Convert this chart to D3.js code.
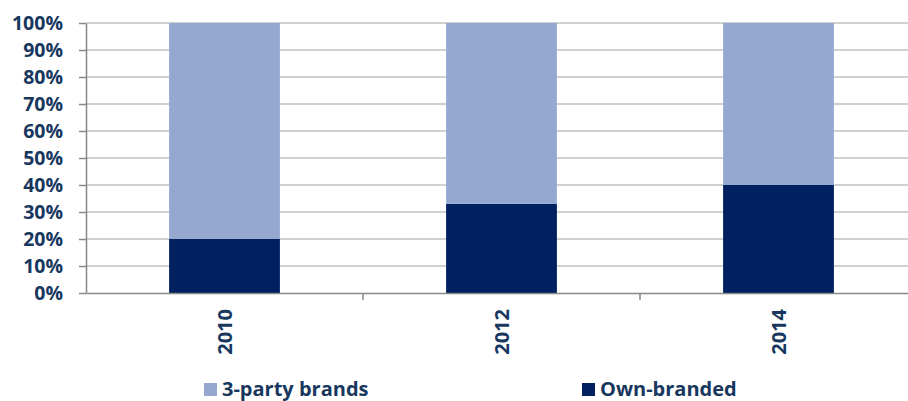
<!DOCTYPE html>
<html>
<head>
<meta charset="UTF-8">
<script src="https://d3js.org/d3.v7.min.js"></script>
<style>
  body { margin: 0; background: #fff; }
  text { font-family: "Open Sans", sans-serif; font-weight: 700; fill: #17375E; }
</style>
</head>
<body>
<div id="chart"></div>
<script>
// data
var years = ["2010", "2012", "2014"];
var ownBranded = [20, 33, 40];
var thirdParty = [80, 67, 60];
var seriesNames = ["3-party brands", "Own-branded"];
var yTicks = [0, 10, 20, 30, 40, 50, 60, 70, 80, 90, 100];

var W = 908, H = 401;
var margin = {top: 23, left: 86, bottom: 108};
var plotH = H - margin.top - margin.bottom;
var plotW = 831; // runs past the right edge, like the original

var svg = d3.select("#chart").append("svg")
    .attr("width", W).attr("height", H);
var g = svg.append("g").attr("transform", "translate(" + margin.left + "," + margin.top + ")");

var x = d3.scaleBand().domain(years).range([0, plotW]).paddingInner(0.6).paddingOuter(0.3);
var xCat = d3.scaleBand().domain(years).range([0, plotW]);
var y = d3.scaleLinear().domain([0, 100]).range([plotH, 0]);

var color = d3.scaleOrdinal().domain(seriesNames).range(["#95A9D0", "#002060"]);

// gridlines
g.selectAll(".grid").data(yTicks.slice(1)).enter().append("line")
    .attr("x1", 0).attr("x2", plotW)
    .attr("y1", d => y(d)).attr("y2", d => y(d))
    .attr("stroke", "#C0C0C0").attr("stroke-width", 1.5);

// stacked bars
var rows = years.map((yr, i) => ({year: yr, "Own-branded": ownBranded[i], "3-party brands": thirdParty[i]}));
var stack = d3.stack().keys(["Own-branded", "3-party brands"])(rows);

g.selectAll(".layer").data(stack).enter().append("g")
    .attr("fill", d => color(d.key))
  .selectAll("rect").data(d => d).enter().append("rect")
    .attr("x", d => x(d.data.year))
    .attr("width", x.bandwidth())
    .attr("y", d => y(d[1]))
    .attr("height", d => y(d[0]) - y(d[1]));

// y axis
var yAxis = g.append("g")
    .call(d3.axisLeft(y).tickValues(yTicks).tickFormat(d => d + "%").tickSize(7).tickSizeOuter(0));
yAxis.select(".domain").attr("stroke", "#888").attr("stroke-width", 1.5);
yAxis.selectAll(".tick line").attr("stroke", "#888").attr("stroke-width", 1.5);
yAxis.selectAll("text").attr("x", -23).attr("dy", "0.35em")
    .style("font-size", "19.5px").style("font-family", "'Open Sans', sans-serif").style("font-weight", "700").attr("fill", "#17375E");

// x axis
var xAxis = g.append("g").attr("transform", "translate(0," + plotH + ")")
    .call(d3.axisBottom(xCat).tickSize(0).tickSizeOuter(0));
xAxis.select(".domain").attr("stroke", "#888").attr("stroke-width", 1.5);
xAxis.selectAll(".tick text")
    .attr("transform", "rotate(-90)")
    .attr("x", -16).attr("y", 0).attr("dy", "0.35em")
    .style("text-anchor", "end")
    .style("font-size", "20px").style("font-family", "'Open Sans', sans-serif").style("font-weight", "700").attr("fill", "#17375E");
// category divider ticks
g.selectAll(".cattick").data(years.slice(1)).enter().append("line")
    .attr("x1", d => xCat(d)).attr("x2", d => xCat(d))
    .attr("y1", plotH).attr("y2", plotH + 7)
    .attr("stroke", "#888").attr("stroke-width", 1.5);

// legend
var legendX = [204, 582];
var legend = svg.selectAll(".legend").data(seriesNames).enter().append("g")
    .attr("transform", (d, i) => "translate(" + legendX[i] + ",383)");
legend.append("rect").attr("width", 13).attr("height", 13).attr("fill", d => color(d));
legend.append("text").attr("x", 18).attr("y", 13)
    .style("font-size", "20px").text(d => d);
</script>
</body>
</html>
